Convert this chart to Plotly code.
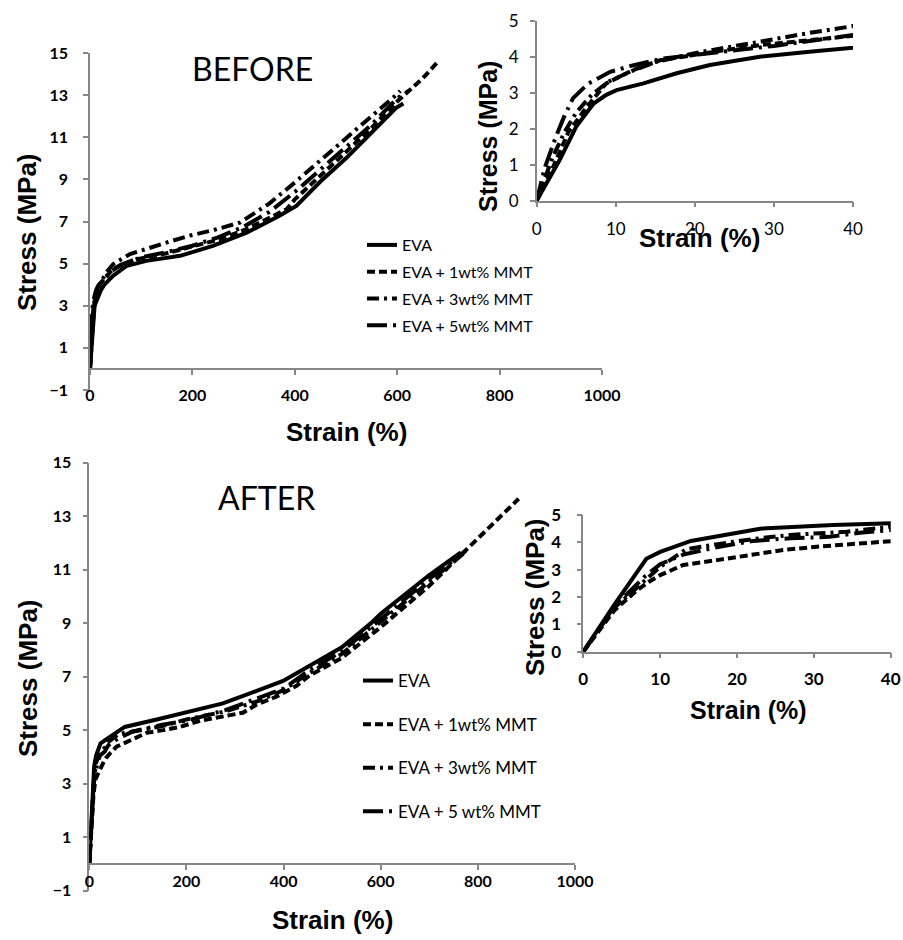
import plotly.graph_objects as go

W, H = 903, 940


def fx(p):
    return p / W


def fy(p):
    return 1 - p / H


# ---------------- DATA ----------------
before_names = ["EVA", "EVA + 1wt% MMT", "EVA + 3wt% MMT", "EVA + 5wt% MMT"]
after_names = ["EVA", "EVA + 1wt% MMT", "EVA + 3wt% MMT", "EVA + 5 wt% MMT"]

# BEFORE
b_eva_strain = [0, 1, 2.9, 5, 7.2, 8.8, 10.1, 13.5, 17.7, 21.9, 28.2, 34.5, 40, 45, 72, 110, 176, 240, 306, 370, 403, 450, 500, 550, 598, 612]
b_eva_stress = [0, 0.4, 1.13, 2.06, 2.7, 2.94, 3.07, 3.26, 3.54, 3.77, 4.0, 4.14, 4.28, 4.42, 4.9, 5.13, 5.37, 5.84, 6.47, 7.27, 7.74, 8.9, 10.0, 11.25, 12.4, 12.6]

b_1_strain = [0, 2, 4, 6.3, 8.8, 12.2, 15.6, 19.8, 24, 28.2, 32.4, 36, 39.2, 50, 84.5, 143, 195, 254, 306, 345, 384, 400, 450, 500, 550, 600, 650, 679]
b_1_stress = [0, 0.9, 1.9, 2.6, 3.26, 3.63, 3.9, 4.05, 4.19, 4.32, 4.42, 4.5, 4.6, 4.8, 5.17, 5.45, 5.76, 6.16, 6.64, 7.1, 7.58, 8.05, 9.15, 10.3, 11.45, 12.7, 13.8, 14.57]

b_3_strain = [0, 1, 2, 3.5, 5, 7, 9, 12, 15, 20, 25, 30, 35, 40, 45.5, 78, 120, 156, 198, 241, 293, 350, 400, 450, 500, 550, 600, 606]
b_3_stress = [0, 0.6, 1.2, 1.9, 2.45, 2.95, 3.3, 3.6, 3.85, 4.1, 4.3, 4.5, 4.68, 4.85, 4.98, 5.45, 5.8, 6.05, 6.35, 6.59, 6.95, 7.85, 8.85, 9.9, 10.9, 12.0, 13.05, 13.2]

b_5_strain = [0, 1, 2.3, 3.4, 4.6, 6.5, 9.3, 12, 16, 20, 25, 30, 35, 40, 60, 100, 150, 200, 250, 300, 350, 400, 450, 500, 550, 600, 622]
b_5_stress = [0, 0.9, 1.7, 2.3, 2.85, 3.25, 3.58, 3.75, 3.95, 4.05, 4.15, 4.3, 4.45, 4.6, 4.95, 5.3, 5.55, 5.85, 6.25, 6.75, 7.45, 8.4, 9.45, 10.5, 11.6, 12.85, 13.2]

# AFTER
a_eva_strain = [0, 4, 8.2, 10, 14, 19.5, 23, 32.5, 40, 73, 139, 200, 275, 399, 520, 580, 600, 700, 765]
a_eva_stress = [0, 1.7, 3.4, 3.65, 4.05, 4.33, 4.5, 4.63, 4.72, 5.12, 5.4, 5.66, 6.0, 6.84, 8.1, 9.0, 9.35, 10.8, 11.65]

a_1_strain = [0, 4, 7, 8.5, 10, 13, 17.4, 21.7, 26, 30.4, 34.7, 40, 56, 100, 118, 152, 186, 228, 270, 316, 344, 385, 426, 454, 520, 600, 700, 780, 884]
a_1_stress = [0, 1.5, 2.25, 2.55, 2.8, 3.17, 3.35, 3.54, 3.72, 3.84, 3.96, 4.08, 4.38, 4.75, 4.9, 5.0, 5.12, 5.35, 5.5, 5.65, 5.95, 6.25, 6.65, 7.05, 7.7, 8.85, 10.4, 11.8, 13.65]

a_3_strain = [0, 4, 8, 10, 13.4, 16.5, 19.5, 23, 26.9, 34.3, 40, 60, 100, 150, 200, 280, 350, 400, 450, 520, 600, 700, 770]
a_3_stress = [0, 1.6, 2.6, 3.1, 3.75, 3.9, 4.02, 4.15, 4.27, 4.39, 4.57, 4.85, 5.0, 5.15, 5.4, 5.7, 6.1, 6.5, 7.1, 7.85, 9.05, 10.55, 11.6]

a_5_strain = [0, 4, 8, 10, 13, 17, 22, 27, 32, 36, 40, 60, 90, 150, 200, 280, 350, 400, 450, 520, 600, 700, 775]
a_5_stress = [0, 1.65, 2.75, 3.2, 3.55, 3.8, 4.05, 4.15, 4.2, 4.35, 4.45, 4.7, 4.95, 5.2, 5.35, 5.75, 6.2, 6.55, 7.2, 7.95, 9.15, 10.65, 11.7]

main_x_ticks = [0, 200, 400, 600, 800, 1000]
main_y_ticks = [-1, 1, 3, 5, 7, 9, 11, 13, 15]
inset_x_ticks = [0, 10, 20, 30, 40]
inset_y_ticks = [0, 1, 2, 3, 4, 5]

before_series = [(b_eva_strain, b_eva_stress), (b_1_strain, b_1_stress),
                 (b_3_strain, b_3_stress), (b_5_strain, b_5_stress)]
after_series = [(a_eva_strain, a_eva_stress), (a_1_strain, a_1_stress),
                (a_3_strain, a_3_stress), (a_5_strain, a_5_stress)]

# ---------------- STYLE ----------------
dashes = ["solid", "8px,4px", "12px,5px,3px,5px", "20px,6px,3px,6px"]
LW = 4
AXC = "#878787"
TICKFAM = "Lato"
TITLEFAM = "Liberation Sans"

fig = go.Figure()

for i, (sx, sy) in enumerate(before_series):
    fig.add_trace(go.Scatter(x=sx, y=sy, mode="lines", name=before_names[i],
                             line=dict(color="black", width=LW, dash=dashes[i]),
                             xaxis="x", yaxis="y", legend="legend",
                             legendgroup="b%d" % i, showlegend=True))
    fig.add_trace(go.Scatter(x=sx, y=sy, mode="lines", name=before_names[i],
                             line=dict(color="black", width=LW, dash=dashes[i]),
                             xaxis="x2", yaxis="y2", legendgroup="b%d" % i,
                             showlegend=False))

for i, (sx, sy) in enumerate(after_series):
    fig.add_trace(go.Scatter(x=sx, y=sy, mode="lines", name=after_names[i],
                             line=dict(color="black", width=LW, dash=dashes[i]),
                             xaxis="x3", yaxis="y3", legend="legend2",
                             legendgroup="a%d" % i, showlegend=True))
    fig.add_trace(go.Scatter(x=sx, y=sy, mode="lines", name=after_names[i],
                             line=dict(color="black", width=LW, dash=dashes[i]),
                             xaxis="x4", yaxis="y4", legendgroup="a%d" % i,
                             showlegend=False))


def axis_common(tickvals, size, bold=True):
    return dict(tickvals=tickvals, showline=True, linecolor=AXC, linewidth=1.5,
                ticks="outside", ticklen=5, tickcolor=AXC, tickwidth=1.5,
                showgrid=False, zeroline=False, automargin=False,
                tickfont=dict(family=TICKFAM, size=size, color="black",
                              weight="bold" if bold else "normal"))


# BEFORE main: x 90..602 px, y(15)=53, y(-1)=390, y(0)=369
xa = axis_common(main_x_ticks, 16)
xa.update(domain=[fx(90), fx(602)], range=[0, 1000], anchor="free",
          position=fy(369), ticklabelstandoff=7)
ya = axis_common(main_y_ticks, 16)
ya.update(domain=[fy(390), fy(53)], range=[-1, 15], anchor="x",
          ticklabelstandoff=12)

# BEFORE inset: x 536.7..853, y 20.7..200.7
xa2 = axis_common(inset_x_ticks, 17, bold=False)
xa2.update(domain=[fx(536.7), fx(853)], range=[0, 40], anchor="y2",
           ticklabelstandoff=7)
ya2 = axis_common(inset_y_ticks, 17, bold=False)
ya2.update(domain=[fy(200.7), fy(20.7)], range=[0, 5], anchor="x2",
           ticklabelstandoff=8)

# AFTER main: x 89.3..575, y(15)=462.7, y(-1)=890.6, y(0)=864
xa3 = axis_common(main_x_ticks, 16)
xa3.update(domain=[fx(89.3), fx(575)], range=[0, 1000], anchor="free",
           position=fy(864), ticklabelstandoff=-2)
ya3 = axis_common(main_y_ticks, 16)
ya3.update(domain=[fy(890.6), fy(462.7)], range=[-1, 15], anchor="x3",
           ticklabelstandoff=8)

# AFTER inset: x 583.3..890.7, y 515..651.7
xa4 = axis_common(inset_x_ticks, 17)
xa4.update(domain=[fx(583.3), fx(890.7)], range=[0, 40], anchor="y4",
           ticklabelstandoff=6)
ya4 = axis_common(inset_y_ticks, 17)
ya4.update(domain=[fy(651.7), fy(515)], range=[0, 5], anchor="x4",
           ticklabelstandoff=12)

title_font = dict(family=TITLEFAM, size=26, color="black", weight="bold")


def ann(text, cx, cy, font, angle=0):
    return dict(text=text, x=fx(cx), y=fy(cy), xref="paper", yref="paper",
                xanchor="center", yanchor="middle", showarrow=False,
                textangle=angle, font=font)


annotations = [
    ann("Strain (%)", 346, 432, title_font),
    ann("Stress (MPa)", 27, 232, title_font, -90),
    ann("Strain (%)", 699, 238, title_font),
    ann("Stress (MPa)", 488, 137, dict(title_font, size=25), -90),
    ann("Strain (%)", 332, 920, title_font),
    ann("Stress (MPa)", 28, 678, title_font, -90),
    ann("Strain (%)", 748, 710, dict(title_font, size=25)),
    ann("Stress (MPa)", 535, 597, title_font, -90),
    ann("BEFORE", 252, 68, dict(family="Lato", size=32, color="black")),
    ann("AFTER", 266, 497, dict(family="Lato", size=32, color="black")),
]

fig.update_layout(
    width=W, height=H, autosize=False,
    margin=dict(l=0, r=0, t=0, b=0, autoexpand=False),
    paper_bgcolor="white", plot_bgcolor="white",
    xaxis=xa, yaxis=ya, xaxis2=xa2, yaxis2=ya2,
    xaxis3=xa3, yaxis3=ya3, xaxis4=xa4, yaxis4=ya4,
    annotations=annotations,
    legend=dict(x=fx(362), y=fy(228), xanchor="left", yanchor="top",
                traceorder="grouped", tracegroupgap=3,
                bgcolor="rgba(0,0,0,0)",
                font=dict(family="Lato", size=16, color="black")),
    legend2=dict(x=fx(358), y=fy(663), xanchor="left", yanchor="top",
                 traceorder="grouped", tracegroupgap=18.5,
                 bgcolor="rgba(0,0,0,0)",
                 font=dict(family="Lato", size=17, color="black")),
    showlegend=True,
)

fig.write_html(
    "out.html",
    config={"displayModeBar": False},
    post_script="document.body.style.margin='0px';"
                "document.body.style.overflow='hidden';",
)
